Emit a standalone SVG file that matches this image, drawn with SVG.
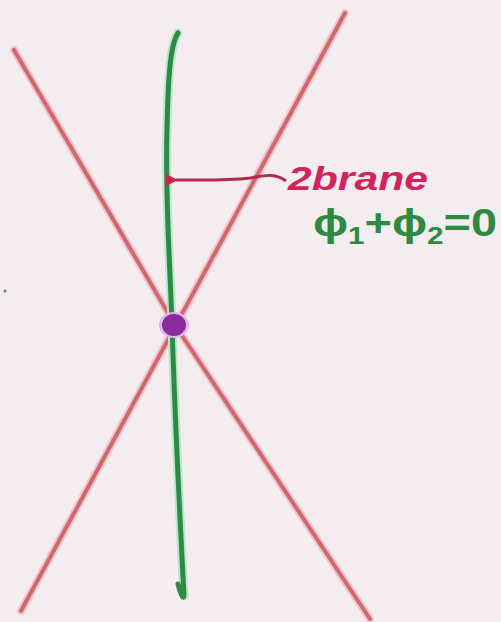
<svg xmlns="http://www.w3.org/2000/svg" width="501" height="622" viewBox="0 0 501 622">
<defs>
<style>
.red{fill:none;stroke:#cc6a70;stroke-width:4;stroke-linecap:round}
.redhalo{fill:none;stroke:#f3c4cc;stroke-width:8;stroke-linecap:round}
.green{fill:none;stroke:#2e8a48;stroke-width:5;stroke-linecap:round}
.greenhalo{fill:none;stroke:#bfe6c8;stroke-width:9;stroke-linecap:round}
.lbl{font-family:"Liberation Sans",Arial,sans-serif;font-weight:bold}
</style>
<marker id="ah" markerWidth="12" markerHeight="12" refX="2" refY="6" orient="auto" markerUnits="userSpaceOnUse">
<path d="M12,0 L0,6 L12,12 Z" fill="#c8244f"/>
</marker>
</defs>
<rect width="501" height="622" fill="#f4edef"/>
<circle cx="5" cy="291" r="1.5" fill="#777"/>
<g id="line1">
<path class="redhalo" d="M14,50 L175,325 L370,619"/>
<path class="red" d="M14,50 L175,325 L370,619"/>
</g>
<g id="line2">
<path class="redhalo" d="M345,13 L176,325 L21,611"/>
<path class="red" d="M345,13 L176,325 L21,611"/>
</g>
<g id="brane">
<path class="greenhalo" d="M178,33 C170,45 168,80 167,130 C165,200 170,260 172,325 C175,420 180,520 184,596"/>
<path class="green" d="M178,33 C170,45 168,80 167,130 C165,200 170,260 172,325 C175,420 180,520 184,596 C183,600 180,592 178,584"/>
</g>
<g id="dot">
<ellipse cx="174" cy="325" rx="15" ry="13" fill="#e2b6ea"/>
<ellipse cx="174" cy="325" rx="12" ry="11" fill="#8a2c9c"/>
</g>
<g id="connectors">
<path d="M286,181 C275,172 262,176 250,178 C225,181 200,180 176,180" fill="none" stroke="#b02a4c" stroke-width="3" marker-end="url(#ah)"/>
</g>
<g id="label">
<text class="lbl" x="288" y="190" font-size="34" font-style="italic" fill="#d2245a" textLength="140" lengthAdjust="spacingAndGlyphs">2brane</text>
<text class="lbl" x="313" y="236" font-size="38" fill="#2e8a42" textLength="184" lengthAdjust="spacingAndGlyphs">ϕ<tspan font-size="24" dy="8">1</tspan><tspan dy="-8">+ϕ</tspan><tspan font-size="24" dy="8">2</tspan><tspan dy="-8">=0</tspan></text>
</g>
</svg>
